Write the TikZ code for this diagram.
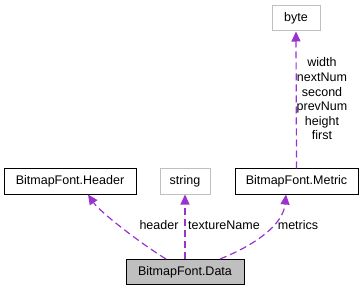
\documentclass[tikz,border=0pt]{standalone}
\usepackage{fontspec}
\setmainfont{Liberation Sans}
\usetikzlibrary{arrows.meta}
\definecolor{morado}{HTML}{9A32CD}
\definecolor{gris}{HTML}{BFBFBF}
\begin{document}
\begin{tikzpicture}[x=1pt,y=-1pt,
    texto/.style={font=\fontsize{12.5}{14.6}\selectfont},
    clase/.style={texto,draw=black,fill=white,line width=1pt,minimum height=25pt,inner sep=0pt},
    externa/.style={clase,draw=gris},
    usa/.style={draw=morado,line width=1.2pt,dash pattern=on 7pt off 4pt,-{Triangle[length=10pt,width=9pt]}},
    etiqueta/.style={texto,align=center,inner sep=0pt}]
            \useasboundingbox (0,0) rectangle (361,291);

            % Clases
            \node[externa,minimum width=48pt] (byte) at (296,18.5) {byte};
            \node[clase,minimum width=132pt] (header) at (70,181.5) {BitmapFont.Header};
            \node[externa,minimum width=50pt] (string) at (185,181.5) {string};
            \node[clase,minimum width=123pt] (metric) at (296.5,181.5) {BitmapFont.Metric};
            \node[clase,fill=gris,minimum width=118pt] (data) at (185,272) {BitmapFont.Data};

            % Relaciones de uso
            \draw[usa] (metric.north) -- (byte.south);
            \draw[usa] ([xshift=-19pt]data.north) .. controls (140,243) and (100,212) .. ([xshift=18pt]header.south);
            \draw[usa] (data.north) -- (string.south);
            \draw[usa] ([xshift=35pt]data.north) .. controls (255,245) and (283,225) .. ([xshift=-10.5pt]metric.south);

            % Nombres de los miembros
            \node[etiqueta] (l-byte) at (322,99) {width\\nextNum\\second\\prevNum\\height\\first};
            \node[etiqueta] (l-header) at (159,225) {header};
            \node[etiqueta] (l-string) at (224,225) {textureName};
            \node[etiqueta] (l-metric) at (298,225) {metrics};
\end{tikzpicture}
\end{document}
